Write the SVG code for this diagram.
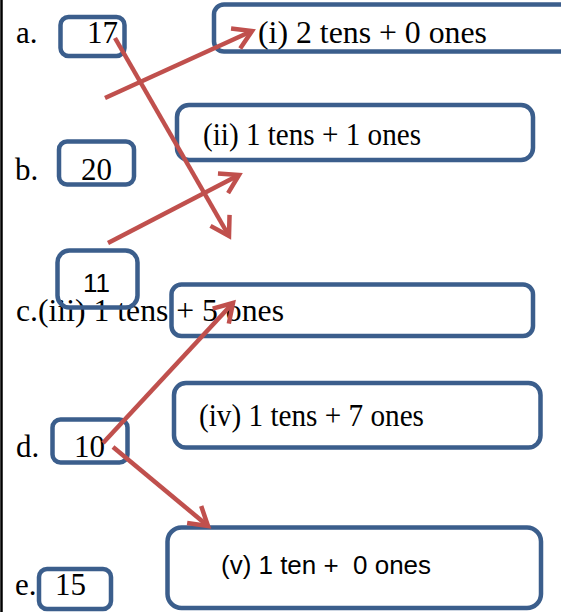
<svg xmlns="http://www.w3.org/2000/svg" width="561" height="612" viewBox="0 0 561 612">
<style>
.box{fill:none;stroke:#3B5E8C;stroke-width:4.5}
.t{font-family:"Liberation Serif","Times New Roman",serif;font-size:31px;fill:#000}
.s{font-family:"Liberation Sans",Arial,sans-serif;font-size:26px;fill:#000}
.arr{stroke:#C0504D;stroke-width:4.5;fill:none;marker-end:url(#ah)}
</style>
<defs>
<marker id="ah" markerUnits="userSpaceOnUse" viewBox="0 0 26 26" markerWidth="26" markerHeight="26" refX="21" refY="13" orient="auto">
<path d="M3,2 L21,13 L3,24" fill="none" stroke="#C0504D" stroke-width="4.5" stroke-linejoin="miter"/>
</marker>
</defs>
<rect x="0" y="0" width="561" height="612" fill="#fff"/>
<line x1="1.5" y1="0" x2="1.5" y2="612" stroke="#000" stroke-width="2.5"/>
<g id="labels">
<text class="t" x="16" y="43">a.</text>
<text class="t" x="15" y="180">b.</text>
<text class="t" x="16" y="321" font-size="32" textLength="268" lengthAdjust="spacingAndGlyphs">c.(iii) 1 tens + 5 ones</text>
<text class="t" x="16" y="457">d.</text>
<text class="t" x="15" y="595">e.</text>
</g>
<g id="node-17">
<rect class="box" x="60.5" y="17" width="64" height="39" rx="8"/>
<text class="t" x="87" y="43">17</text>
</g>
<g id="node-20">
<rect class="box" x="59" y="141.5" width="75" height="43" rx="8"/>
<text class="t" x="81" y="180">20</text>
</g>
<g id="node-11">
<rect class="box" x="57.5" y="250.5" width="80" height="57" rx="12"/>
<text class="s" x="83" y="292" font-size="25">11</text>
</g>
<g id="node-10">
<rect class="box" x="52.5" y="419.5" width="75" height="43" rx="8"/>
<text class="t" x="74" y="457">10</text>
</g>
<g id="node-15">
<rect class="box" x="39" y="569" width="72" height="40" rx="8"/>
<text class="t" x="55" y="595">15</text>
</g>
<g id="node-i">
<rect class="box" x="214" y="4.5" width="380" height="47" rx="10"/>
<text class="t" x="258" y="43" font-size="32" textLength="229" lengthAdjust="spacingAndGlyphs">(i) 2 tens + 0 ones</text>
</g>
<g id="node-ii">
<rect class="box" x="177" y="105" width="356" height="55" rx="12"/>
<text class="t" x="203" y="145" font-size="31" textLength="218" lengthAdjust="spacingAndGlyphs">(ii) 1 tens + 1 ones</text>
</g>
<g id="node-iii">
<rect class="box" x="171.5" y="284.5" width="361.5" height="51.5" rx="10"/>
</g>
<g id="node-iv">
<rect class="box" x="174" y="383" width="366.5" height="64.5" rx="12"/>
<text class="t" x="199" y="426" font-size="31" textLength="225" lengthAdjust="spacingAndGlyphs">(iv) 1 tens + 7 ones</text>
</g>
<g id="node-v">
<rect class="box" x="167.5" y="527.5" width="373.5" height="80.5" rx="14"/>
<text class="s" x="221" y="574" xml:space="preserve" textLength="210" lengthAdjust="spacingAndGlyphs">(v) 1 ten +  0 ones</text>
</g>
<g id="connectors">
<line class="arr" x1="105" y1="98" x2="252" y2="31"/>
<line class="arr" x1="115" y1="38" x2="229" y2="236"/>
<line class="arr" x1="108" y1="243" x2="239" y2="175"/>
<line class="arr" x1="103" y1="443" x2="233" y2="303"/>
<line class="arr" x1="113" y1="447" x2="208" y2="526"/>
</g>
</svg>
